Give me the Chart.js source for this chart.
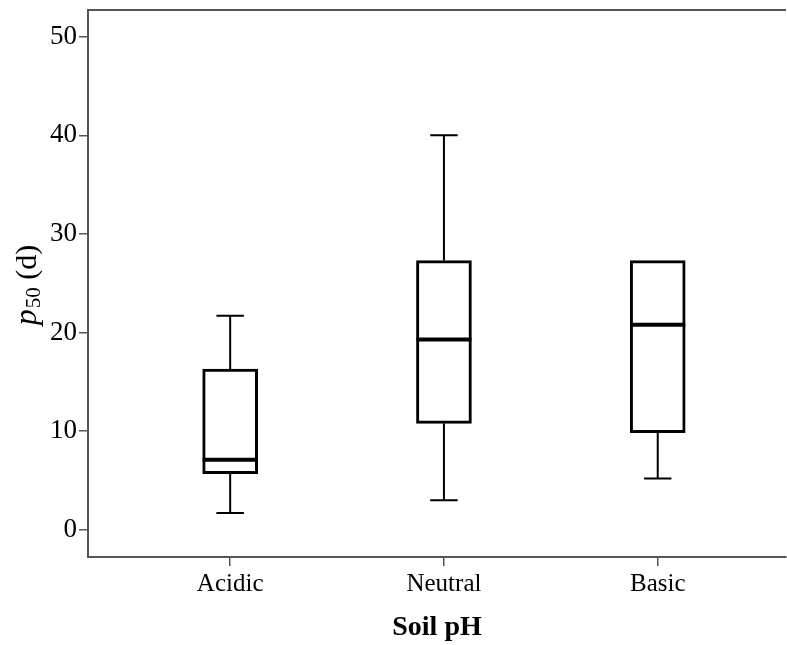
<!DOCTYPE html>
<html>
<head>
<meta charset="utf-8">
<script src="https://cdn.jsdelivr.net/npm/chart.js@4"></script>
<style>
  body { margin: 0; background: #fff; overflow: hidden; }
  canvas { display: block; }
</style>
</head>
<body>
<canvas id="boxChart" width="787" height="645"></canvas>
<script>
// box plot values
const categories = ['Acidic', 'Neutral', 'Basic'];
const whiskerLow = [1.7, 3.0, 5.2];
const q1 = [5.7, 10.8, 9.85];
const median = [7.1, 19.3, 20.8];
const q3 = [16.3, 27.3, 27.3];
const whiskerHigh = [21.7, 40.0, 27.3];
const yTicks = [0, 10, 20, 30, 40, 50];

const serif = "'Liberation Serif', 'Times New Roman', serif";
const axisGray = '#555';

// whiskers, caps and median lines, drawn over the floating bars
const boxExtras = {
  id: 'boxExtras',
  afterDatasetsDraw(chart) {
    const ctx = chart.ctx;
    const y = chart.scales.y;
    const meta = chart.getDatasetMeta(0);
    ctx.save();
    ctx.strokeStyle = '#000';
    meta.data.forEach((bar, i) => {
      const cx = bar.x;
      const half = bar.width / 2;
      const cap = bar.width / 4;
      const yLo = y.getPixelForValue(whiskerLow[i]);
      const yHi = y.getPixelForValue(whiskerHigh[i]);
      const yQ1 = y.getPixelForValue(q1[i]);
      const yQ3 = y.getPixelForValue(q3[i]);
      const yMed = y.getPixelForValue(median[i]);

      ctx.lineWidth = 2;
      ctx.beginPath();
      if (whiskerHigh[i] > q3[i]) {
        ctx.moveTo(cx, yQ3); ctx.lineTo(cx, yHi);
        ctx.moveTo(cx - cap, yHi); ctx.lineTo(cx + cap, yHi);
      }
      if (whiskerLow[i] < q1[i]) {
        ctx.moveTo(cx, yQ1); ctx.lineTo(cx, yLo);
        ctx.moveTo(cx - cap, yLo); ctx.lineTo(cx + cap, yLo);
      }
      ctx.stroke();

      ctx.lineWidth = 4;
      ctx.beginPath();
      ctx.moveTo(cx - half, yMed); ctx.lineTo(cx + half, yMed);
      ctx.stroke();
    });
    ctx.restore();
  },
  afterDraw(chart) {
    const ctx = chart.ctx;
    const area = chart.chartArea;
    ctx.save();
    // top frame line
    ctx.strokeStyle = axisGray;
    ctx.lineWidth = 2;
    ctx.beginPath();
    ctx.moveTo(area.left - 1, area.top);
    ctx.lineTo(area.right, area.top);
    ctx.stroke();

    // y axis title: italic p, subscript 50, then (d)
    const mid = (area.top + area.bottom) / 2;
    ctx.translate(36, mid + 2);
    ctx.rotate(-Math.PI / 2);
    ctx.fillStyle = '#000';
    ctx.textBaseline = 'alphabetic';
    const fMain = '30px ' + serif;
    const fItal = 'italic 32px ' + serif;
    const fSub = '21px ' + serif;
    ctx.font = fItal; const wP = ctx.measureText('p').width;
    ctx.font = fSub; const wS = ctx.measureText('50').width;
    ctx.font = fMain; const wD = ctx.measureText(' (d)').width;
    let x = -(wP + wS + wD) / 2;
    ctx.font = fItal; ctx.fillText('p', x, 0); x += wP + 1;
    ctx.font = fSub; ctx.fillText('50', x, 4); x += wS;
    ctx.font = fMain; ctx.fillText(' (d)', x, 0);
    ctx.restore();
  }
};

const boxData = categories.map((c, i) => ({ x: i, y: [q1[i], q3[i]] }));

new Chart(document.getElementById('boxChart').getContext('2d'), {
  type: 'bar',
  data: {
    datasets: [{
      label: 'p50',
      data: boxData,
      backgroundColor: '#fff',
      borderColor: '#000',
      borderWidth: 3,
      borderSkipped: false,
      barThickness: 55
    }]
  },
  options: {
    responsive: false,
    animation: false,
    layout: { padding: { top: 10, right: 1, left: 0, bottom: 0 } },
    plugins: {
      legend: { display: false },
      tooltip: { enabled: false }
    },
    scales: {
      x: {
        type: 'linear',
        offset: false,
        min: -0.665,
        max: 2.6,
        afterBuildTicks: (s) => { s.ticks = categories.map((c, i) => ({ value: i })); },
        afterFit: (s) => { s.height = 88; s.paddingLeft = 0; s.paddingRight = 0; },
        ticks: {
          callback: (v) => categories[v] ?? '',
          font: { family: serif, size: 25 },
          color: '#000',
          padding: 3,
          maxRotation: 0
        },
        grid: { offset: false, drawOnChartArea: false, drawTicks: true, tickLength: 9, color: axisGray, lineWidth: 1.5 },
        border: { display: true, color: axisGray, width: 2 },
        title: {
          display: true,
          text: 'Soil pH',
          font: { family: serif, size: 28, weight: 'bold' },
          color: '#000',
          padding: { top: 0, bottom: 0 }
        }
      },
      y: {
        min: -2.75,
        max: 52.7,
        afterBuildTicks: (s) => { s.ticks = yTicks.map(v => ({ value: v })); },
        afterFit: (s) => { s.width = 88; s.paddingTop = 0; s.paddingBottom = 0; },
        ticks: {
          font: { family: serif, size: 27 },
          color: '#000',
          padding: 2
        },
        grid: { drawOnChartArea: false, drawTicks: true, tickLength: 9, color: axisGray, lineWidth: 1.5 },
        border: { display: true, color: axisGray, width: 2 }
      }
    }
  },
  plugins: [boxExtras]
});
</script>
</body>
</html>
